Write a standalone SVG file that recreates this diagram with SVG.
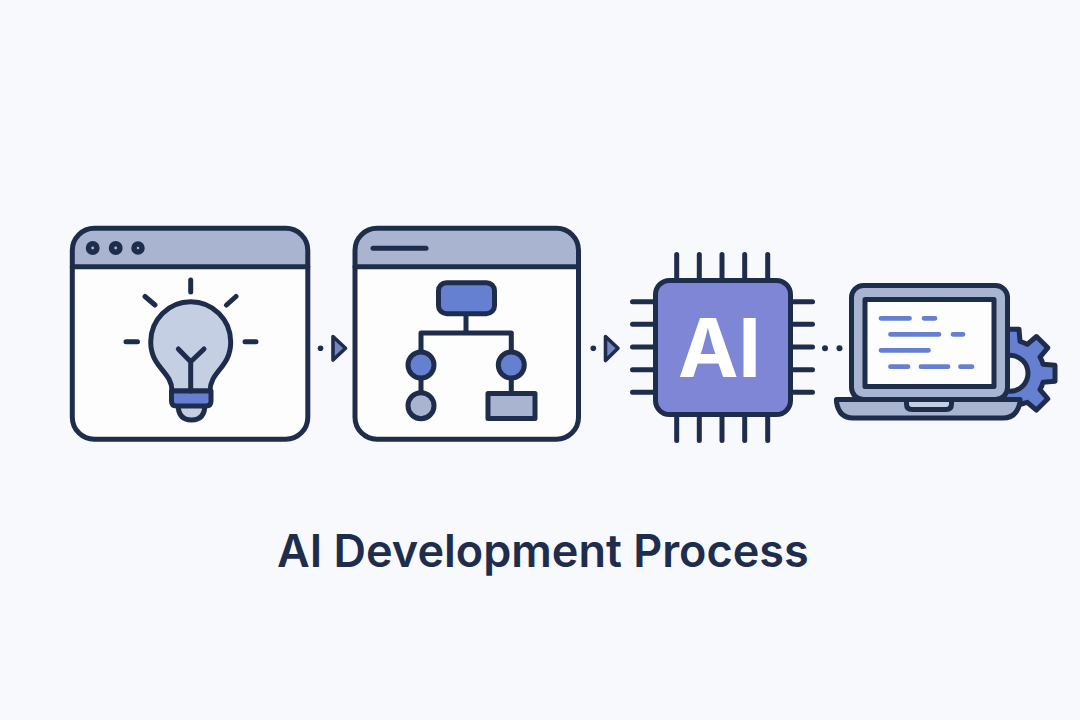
<svg xmlns="http://www.w3.org/2000/svg" width="1080" height="720" viewBox="0 0 1080 720">
<style>
.o{stroke:#1f2d4d;stroke-width:5;stroke-linejoin:round;stroke-linecap:round;fill:none}
.hdr{fill:#a8b4d0}
.win{fill:#fdfdfe}
.code{stroke:#6580d0;stroke-width:4.8;stroke-linecap:round;fill:none}
.dot{fill:#1f2d4d}
.light{stroke:#1f2d4d;stroke-width:5.5;fill:#a8b4d0}
.arrow{stroke:#1f2d4d;stroke-width:3.6;stroke-linejoin:round;fill:#7488bd}
</style>
<rect width="1080" height="720" fill="#f8f9fd"/>
<g id="connectors">
<circle class="dot" cx="320.500" cy="348.300" r="2.800"/>
<path class="arrow" d="M333 336.500L345.500 348.300L333 360Z"/>
<circle class="dot" cx="593.300" cy="348.300" r="2.800"/>
<path class="arrow" d="M605.500 336.500L618 348.300L605.500 360.500Z"/>
<circle class="dot" cx="825" cy="348.300" r="3"/>
<circle class="dot" cx="839.500" cy="348.300" r="3"/>
</g>
<g id="idea-window">
<rect class="win" x="72.300" y="228.300" width="235.500" height="211" rx="22"/>
<path class="hdr" d="M72.300 266.700V250A22 22 0 0 1 94 228.300H286A22 22 0 0 1 307.800 250V266.700Z"/>
<rect class="o" x="72.300" y="228.300" width="235.500" height="211" rx="22"/>
<path class="o" d="M72.300 266.700H307.800"/>
<circle class="light" cx="92.700" cy="248" r="4.200"/>
<circle class="light" cx="115.700" cy="248" r="4.200"/>
<circle class="light" cx="138" cy="248" r="4"/>
<path class="o" d="M190.700 280V292M145 296.500L155 305M236 296.500L226.500 305M126 341.700H137.500M245 341.700H256"/>
<path class="o" style="fill:#c5cfe3" d="M178 404C178 416 184 420 191.500 420S205 416 205 404Z"/>
<path class="o" style="fill:#c5cfe3" d="M172 391C172 371 150.700 368 150.700 341.700A40 40 0 0 1 230.700 341.700C230.700 368 210 371 210 391Z"/>
<path class="o" style="fill:#6580d0" d="M171.500 391H211V401Q211 406 206 406H176.500Q171.500 406 171.500 401Z"/>
<path class="o" d="M190.700 391V361.700M178.300 349L190.700 361.700L204 349"/>
</g>
<g id="flow-window">
<rect class="win" x="355" y="228.300" width="223.500" height="211" rx="22"/>
<path class="hdr" d="M355 266.700V250A22 22 0 0 1 377 228.300H556.500A22 22 0 0 1 578.500 250V266.700Z"/>
<rect class="o" x="355" y="228.300" width="223.500" height="211" rx="22"/>
<path class="o" d="M355 266.700H578.500"/>
<path class="o" d="M373 248.300H426"/>
<path class="o" d="M466 315V333M421 365V333H511.300V365M421 378V392M511.300 378V393"/>
<rect class="o" style="fill:#6580d0" x="438.500" y="282.700" width="56" height="31" rx="8"/>
<circle class="o" style="fill:#6580d0" cx="421" cy="365" r="13"/>
<circle class="o" style="fill:#6580d0" cx="511.300" cy="365" r="13"/>
<circle class="o" style="fill:#a8b4d0" cx="421" cy="405.700" r="13"/>
<rect class="o" style="fill:#a8b4d0" x="488" y="393.500" width="47" height="25"/>
</g>
<g id="ai-chip">
<path class="o" d="M676.700 254.500V279M699.300 254.500V279M722 254.500V279M744.700 254.500V279M767.700 254.500V279M676.700 416V440.500M699.300 416V440.500M722 416V440.500M744.700 416V440.500M767.700 416V440.500M632.500 301.700H655M632.500 324.300H655M632.500 347H655M632.500 369.700H655M632.500 392.300H655M790 301.700H812.500M790 324.300H812.500M790 347H812.500M790 369.700H812.500M790 392.300H812.500"/>
<rect class="o" style="fill:#7f86d6" x="655.500" y="280.500" width="135" height="134" rx="14"/>
<text x="719.500" y="376.700" text-anchor="middle" font-family="Inter, 'Liberation Sans', sans-serif" font-weight="700" font-size="81" fill="#ffffff">AI</text>
</g>
<g id="laptop">
<path class="o" style="fill:#6580d0" d="M1002 341.300L1003 329.300H1019L1020 341.300A32 32 0 0 1 1027.270 344.310L1036.450 336.530L1047.770 347.850L1039.990 357.030A32 32 0 0 1 1043 364.300L1055 365.300V381.300L1043 382.300A32 32 0 0 1 1039.990 389.570L1047.770 398.750L1036.450 410.070L1027.270 402.290A32 32 0 0 1 1015 404.800H1002Z"/>
<circle class="o" style="fill:#f8f9fd" cx="1010" cy="373.300" r="18"/>
<rect class="o" style="fill:#a8b4d0" x="851.500" y="285.500" width="156" height="114" rx="12"/>
<rect class="o" style="fill:#fdfdfe" x="865" y="299.500" width="129" height="87"/>
<path class="code" d="M881 318.300H909.500M924 318.300H935M890.500 334.300H939M953 334.300H963M881 350.300H928.500M890.500 366.700H908M921 366.700H948M960.500 366.700H972"/>
<path class="o" style="fill:#a8b4d0" d="M836.500 399.500H1020V402Q1017 418 1003 418H853Q839 418 836.500 402Z"/>
<path class="o" style="fill:#c5cfe3" d="M906.500 399.500V404Q906.500 409.500 912 409.500H946Q951.500 409.500 951.500 404V399.500Z"/>
</g>
<text id="title" x="277" y="566.500" font-family="Inter, 'Liberation Sans', sans-serif" font-weight="600" font-size="45" fill="#1f2d4d">AI Development Process</text>
</svg>
